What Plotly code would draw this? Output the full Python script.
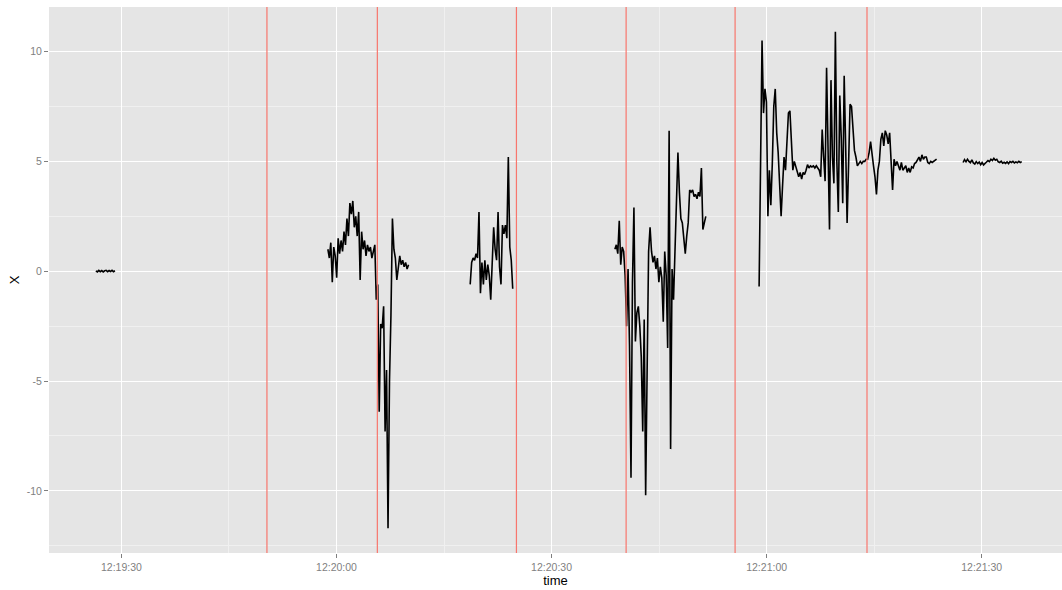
import numpy as np
import pandas as pd
import plotly.graph_objects as go

DATE = "2013-05-14"
SAMPLE_DT = 0.2046  # seconds between sensor readings

# start time of each recorded burst
seg_starts = ["12:19:26.44", "12:19:58.80", "12:20:18.65",
              "12:20:38.83", "12:20:58.95", "12:21:27.40"]

seg1 = [0.02, -0.03, 0.04, -0.02, 0.03, -0.03, 0.02, 0.04, -0.02, 0.03, -0.01, 0.04, -0.02, 0.02]

seg2 = [1.0, 0.6, 1.3, -0.5, 1.1, 0.7, -0.3, 1.5, 0.8, 1.4, 0.9, 1.8, 1.2, 2.4, 1.6, 3.1,
        2.6, 3.2, 2.0, 2.5, 1.6, 2.7, -0.4, 1.8, 1.0, 1.4, 0.7, 1.2, 0.9, 1.1, 0.6, 1.0,
        1.2, -1.3, -0.6, -6.4, -2.4, -2.6, -1.6, -7.3, -4.5, -11.7, -5.0, -2.0, 2.4, 1.0,
        0.6, -0.4, 0.3, 0.7, 0.3, 0.5, 0.2, 0.4, 0.1, 0.3]

seg3 = [-0.6, 0.4, 0.6, 0.5, 0.8, 0.6, 2.7, -1.0, 0.4, -0.6, 0.5, -0.4, 0.3, -0.2, -1.3,
        0.2, 2.0, 1.0, 0.5, 2.7, 0.2, -0.6, 2.1, 1.7, 2.1, 1.5, 5.2, 1.1, 0.5, -0.8]

seg4 = [1.0, 1.2, 0.8, 2.3, 0.3, 1.1, 0.9, -0.2, -2.5, 0.1, -3.4, -9.4, -0.5, 2.9, -3.2,
        -1.9, -1.6, -2.5, -3.9, -7.3, -2.2, -10.2, -4.5, 0.9, 2.0, 0.9, 0.4, 0.7, 0.1, 0.6,
        -0.5, 0.2, -0.3, -2.3, 0.9, -0.2, -3.5, 6.4, -8.1, 0.1, -1.3, 1.0, 2.4, 5.4, 3.6,
        2.4, 2.2, 1.5, 0.8, 1.6, 2.2, 3.7, 3.6, 3.7, 3.4, 3.5, 3.3, 3.6, 3.4, 4.7, 1.9,
        2.2, 2.5]

seg5 = [-0.7, 5.7, 10.5, 7.2, 8.3, 7.7, 2.5, 4.6, 3.0, 4.9, 7.5, 8.3, 6.3, 5.4, 4.2, 2.5,
        3.9, 5.2, 4.6, 6.0, 7.2, 7.3, 5.7, 4.6, 5.0, 4.8, 4.6, 4.3, 4.5, 4.2, 4.5, 4.4,
        4.6, 4.85, 4.7, 4.8, 4.75, 4.8, 4.7, 4.8, 4.7, 4.6, 4.3, 6.45, 5.2, 4.1, 9.26, 4.85,
        1.9, 8.7, 5.2, 4.0, 10.9, 5.0, 2.7, 8.0, 6.1, 3.1, 8.9, 5.7, 2.2, 4.85, 7.6, 7.5,
        6.6, 5.5, 5.2, 4.8, 4.9, 5.0, 4.9, 5.0, 5.0, 5.1, 5.1, 5.4, 5.9, 5.2, 4.8, 4.3,
        3.5, 4.6, 5.0, 6.0, 6.3, 5.7, 6.4, 6.2, 5.8, 6.3, 5.2, 3.7, 5.1, 4.8, 5.0, 4.8,
        4.6, 4.95, 4.6, 4.7, 4.8, 4.5, 4.7, 4.5, 4.75, 4.7, 4.9, 4.95, 5.05, 5.2, 5.0, 5.3,
        5.1, 5.2, 5.2, 4.95, 4.9, 5.0, 4.95, 5.0, 5.05, 5.1]

seg6 = [4.95, 5.08, 4.98, 5.1, 5.0, 4.94, 5.07, 4.93, 4.88, 4.99, 4.9, 4.97, 4.85, 4.95,
        4.84, 4.93, 4.97, 5.04, 4.99, 5.1, 5.04, 5.14, 5.05, 5.09, 4.98, 4.95, 5.01, 4.92,
        4.96, 4.91, 4.98, 4.9, 4.99, 4.95, 5.0, 4.93, 4.98, 4.94, 5.0, 4.95, 4.99]

segments = [seg1, seg2, seg3, seg4, seg5, seg6]

event_times = ["12:19:50.3", "12:20:05.7", "12:20:25.1",
               "12:20:40.4", "12:20:55.6", "12:21:14.0"]

x_tick_labels = ["12:19:30", "12:20:00", "12:20:30", "12:21:00", "12:21:30"]
y_ticks = [-10, -5, 0, 5, 10]

fig = go.Figure()
for start, vals in zip(seg_starts, segments):
    t0 = pd.Timestamp(f"{DATE} {start}")
    times = t0 + pd.to_timedelta(np.arange(len(vals)) * SAMPLE_DT, unit="s")
    fig.add_trace(go.Scatter(x=times, y=vals, mode="lines",
                             line=dict(color="black", width=1.6),
                             showlegend=False, hoverinfo="skip"))

for et in event_times:
    fig.add_shape(type="line", xref="x", yref="paper",
                  x0=f"{DATE} {et}", x1=f"{DATE} {et}", y0=0, y1=1,
                  line=dict(color="#F8766D", width=1.2), layer="above")

tick_font = dict(family="Liberation Sans, Arial, sans-serif", size=10.5, color="#7F7F7F")
title_font = dict(family="Liberation Sans, Arial, sans-serif", size=13, color="black")

fig.update_layout(
    width=1062, height=590,
    margin=dict(l=49, r=0, t=7, b=37),
    paper_bgcolor="white",
    plot_bgcolor="#E5E5E5",
    xaxis=dict(
        type="date",
        range=[f"{DATE} 12:19:19.9", f"{DATE} 12:21:41.2"],
        tickmode="array",
        tickvals=[f"{DATE} {t}" for t in x_tick_labels],
        ticktext=x_tick_labels,
        ticks="outside", ticklen=4, tickwidth=1, tickcolor="#7F7F7F",
        tickfont=tick_font,
        showgrid=True, gridcolor="white", gridwidth=1.3,
        minor=dict(tickmode="linear", tick0=f"{DATE} 12:19:15", dtick=15000,
                   showgrid=True, gridcolor="#F0F0F0", gridwidth=0.8),
        zeroline=False, showline=False,
        title=dict(text="time", font=title_font, standoff=4),
        automargin=False,
    ),
    yaxis=dict(
        range=[-12.83, 12.03],
        tickmode="array", tickvals=y_ticks, ticktext=[str(v) for v in y_ticks],
        ticks="outside", ticklen=4, tickwidth=1, tickcolor="#7F7F7F",
        tickfont=tick_font,
        showgrid=True, gridcolor="white", gridwidth=1.3,
        minor=dict(tickmode="linear", tick0=0, dtick=2.5,
                   showgrid=True, gridcolor="#F0F0F0", gridwidth=0.8),
        zeroline=False, showline=False,
        title=dict(text="X", font=title_font, standoff=4),
        automargin=False,
    ),
)

fig.write_html("out.html", config={"displayModeBar": False},
               post_script="document.body.style.margin='0px';")
